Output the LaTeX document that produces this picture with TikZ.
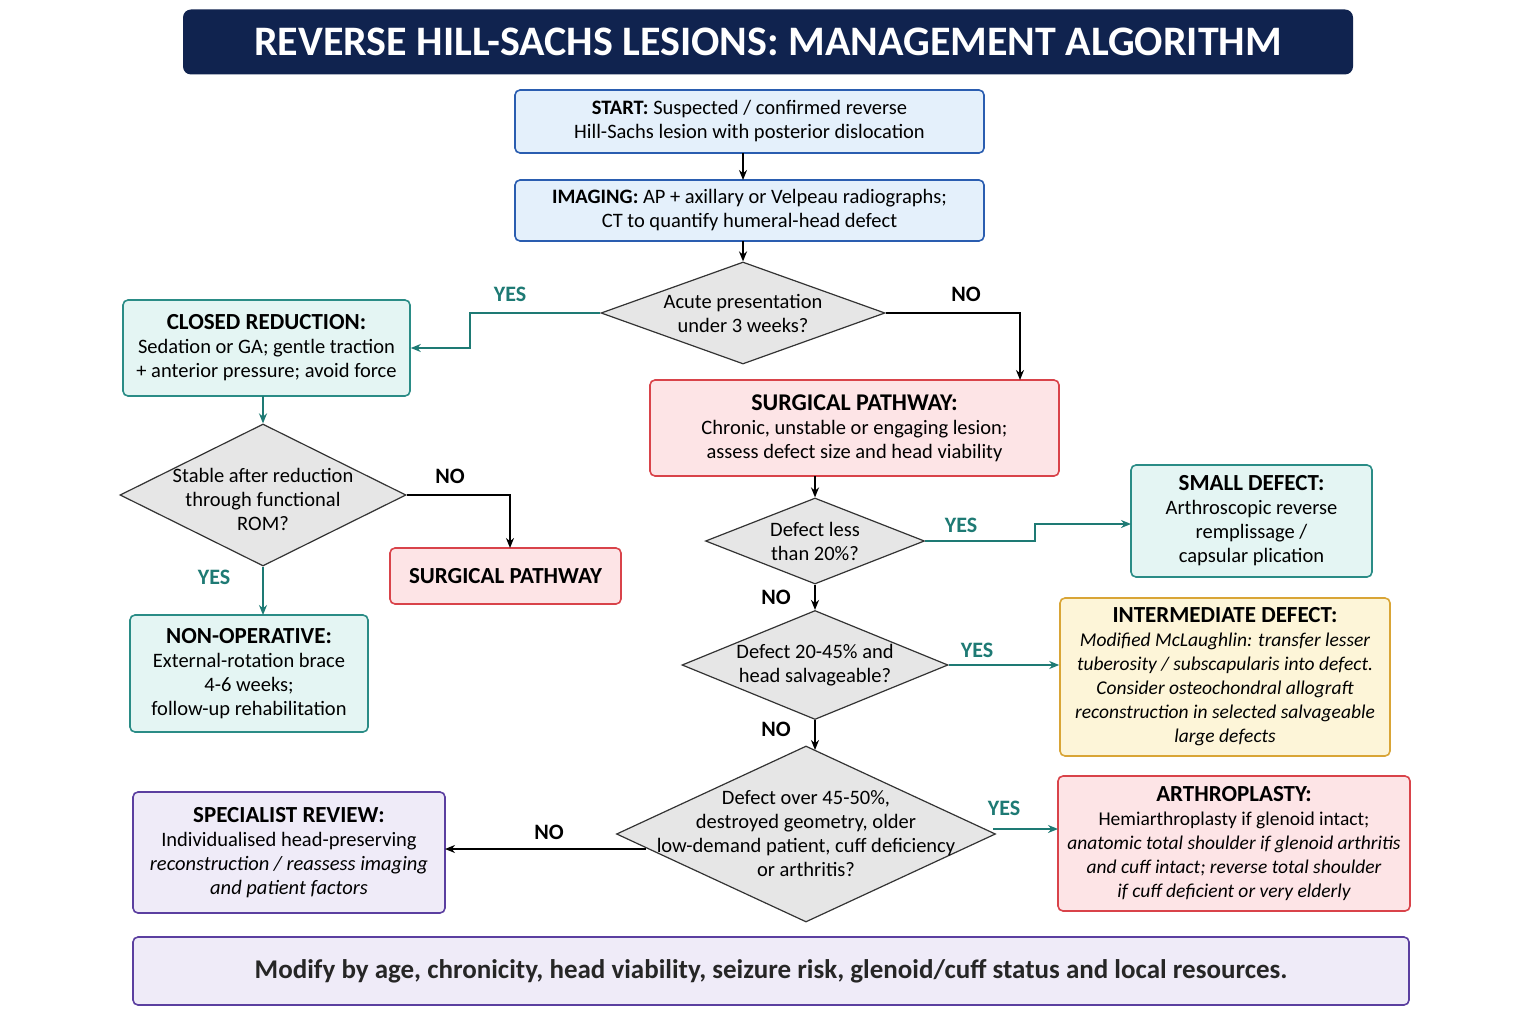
\documentclass[tikz,border=0pt]{standalone}
\usepackage{fontspec}
\setmainfont{Carlito}
\usetikzlibrary{shapes.geometric,arrows.meta}
\definecolor{navy}{HTML}{10234F}
\definecolor{bB}{HTML}{2A5DB0}\definecolor{bF}{HTML}{E4F0FB}
\definecolor{tB}{HTML}{2A8C86}\definecolor{tF}{HTML}{E4F5F3}
\definecolor{rB}{HTML}{D9434A}\definecolor{rF}{HTML}{FDE4E6}
\definecolor{yB}{HTML}{D9A536}\definecolor{yF}{HTML}{FDF5D8}
\definecolor{pB}{HTML}{5B3FA0}\definecolor{pF}{HTML}{EFEBF8}
\definecolor{dF}{HTML}{E6E6E6}\definecolor{dB}{HTML}{333333}
\definecolor{tc}{HTML}{1E7A74}
\begin{document}
\begin{tikzpicture}[x=1pt,y=-1pt,
 box/.style={draw=#1B,fill=#1F,line width=1.6pt,rounded corners=5pt,align=center,inner sep=0pt},
 dia/.style={diamond,draw=dB,fill=dF,line width=1.2pt,inner sep=0pt},
 txt/.style={align=center,font=\fontsize{20.5}{24}\selectfont},
 hd/.style={font=\fontsize{23}{24}\selectfont\bfseries},
 lab/.style={font=\fontsize{22}{24}\selectfont\bfseries},
 ya/.style={-{Stealth[length=10pt,width=8pt]},line width=1.8pt,draw=tc},
 na/.style={-{Stealth[length=10pt,width=8pt]},line width=1.8pt,draw=black}]
\useasboundingbox (0,0) rectangle (1536,1024);
\fill[white] (0,0) rectangle (1536,1024);
\newcommand{\bx}[6]{\node[box=#2,minimum width=#5-#3,minimum height=#6-#4] (#1) at ({(#3+#5)/2},{(#4+#6)/2}) {};}
\newcommand{\HD}{\bfseries\fontsize{23}{26}\selectfont}
\node[fill=navy,rounded corners=8pt,minimum width=1170,minimum height=65,text=white,font=\fontsize{42}{46}\selectfont\bfseries] (title) at (768,42) {REVERSE HILL-SACHS LESIONS: MANAGEMENT ALGORITHM};
\bx{start}{b}{515}{90}{984}{153}
\node[txt] at (start) {\textbf{START:} Suspected / confirmed reverse\\Hill-Sachs lesion with posterior dislocation};
\bx{img}{b}{515}{180}{984}{241}
\node[txt] at (img) {\textbf{IMAGING:} AP + axillary or Velpeau radiographs;\\CT to quantify humeral-head defect};
\node[dia,minimum width=284,minimum height=102] (d1) at (743,313) {};
\node[txt] at (d1) {Acute presentation\\under 3 weeks?};
\bx{closed}{t}{123}{300}{410}{396}
\node[txt] at (closed) {{\HD CLOSED REDUCTION:}\\Sedation or GA; gentle traction\\+ anterior pressure; avoid force};
\bx{surg}{r}{650}{380}{1059}{476}
\node[txt] at (surg) {{\bfseries\fontsize{24}{27}\selectfont SURGICAL PATHWAY:}\\Chronic, unstable or engaging lesion;\\assess defect size and head viability};
\node[dia,minimum width=286,minimum height=142] (d2) at (263,495) {};
\node[txt] at (263,499) {Stable after reduction\\through functional\\ROM?};
\bx{surg2}{r}{390}{548}{621}{604}
\node[txt,hd] at (surg2) {SURGICAL PATHWAY};
\bx{nonop}{t}{130}{615}{368}{732}
\node[txt] at (nonop) {{\HD NON-OPERATIVE:}\\External-rotation brace\\4-6 weeks;\\follow-up rehabilitation};
\node[dia,minimum width=219,minimum height=86] (d3) at (815,541) {};
\node[txt] at (d3) {Defect less\\than 20\%?};
\bx{small}{t}{1131}{465}{1372}{577}
\node[txt] at (small) {{\HD SMALL DEFECT:}\\Arthroscopic reverse\\remplissage /\\capsular plication};
\node[dia,minimum width=266,minimum height=109] (d4) at (815,665) {};
\node[txt] at (d4) {Defect 20-45\% and\\head salvageable?};
\bx{inter}{y}{1060}{598}{1390}{756}
\node[txt,font=\fontsize{19.5}{24}\selectfont] at (inter) {{\HD INTERMEDIATE DEFECT:}\\\itshape Modified McLaughlin: transfer lesser\\\itshape tuberosity / subscapularis into defect.\\\itshape Consider osteochondral allograft\\\itshape reconstruction in selected salvageable\\\itshape large defects};
\node[dia,minimum width=379,minimum height=176] (d5) at (806,834) {};
\node[txt] at (d5) {Defect over 45-50\%,\\destroyed geometry, older\\low-demand patient, cuff deficiency\\or arthritis?};
\bx{arth}{r}{1058}{776}{1410}{911}
\node[txt,font=\fontsize{19.5}{24}\selectfont] at (arth) {{\HD ARTHROPLASTY:}\\Hemiarthroplasty if glenoid intact;\\\itshape anatomic total shoulder if glenoid arthritis\\\itshape and cuff intact; reverse total shoulder\\\itshape if cuff deficient or very elderly};
\bx{spec}{p}{133}{792}{445}{913}
\node[txt] at (spec) {{\HD SPECIALIST REVIEW:}\\Individualised head-preserving\\\itshape reconstruction / reassess imaging\\\itshape and patient factors};
\bx{foot}{p}{133}{937}{1409}{1005}
\node[font=\fontsize{27}{30}\selectfont\bfseries,text=black!85] at (foot) {Modify by age, chronicity, head viability, seizure risk, glenoid/cuff status and local resources.};
% arrows
\draw[na] (743,153) -- (743,180);
\draw[na] (743,241) -- (d1.north);
\draw[ya] (d1.west) -- (470,313) -- (470,348) -- (closed.east);
\node[lab,text=tc] at (510,294) {YES};
\draw[na] (d1.east) -- (1020,313) -- (1020,380);
\node[lab] at (966,294) {NO};
\draw[ya] (263,396) -- (d2.north);
\draw[na] (d2.east) -- (510,495) -- (510,548);
\node[lab] at (450,476) {NO};
\draw[ya] (d2.south) -- (263,615);
\node[lab,text=tc] at (214,577) {YES};
\draw[na] (815,476) -- (d3.north);
\draw[ya] (d3.east) -- (1035,541) -- (1035,524) -- (1131,524);
\node[lab,text=tc] at (961,525) {YES};
\draw[na] (d3.south) -- (d4.north);
\node[lab] at (776,597) {NO};
\draw[ya] (d4.east) -- (inter.west |- d4.east);
\node[lab,text=tc] at (977,650) {YES};
\draw[na] (d4.south) -- (815,750);
\node[lab] at (776,729) {NO};
\draw[ya] (993,829) -- (1058,829);
\node[lab,text=tc] at (1004,808) {YES};
\draw[na] (646,849) -- (445,849);
\node[lab] at (549,832) {NO};
\end{tikzpicture}
\end{document}
